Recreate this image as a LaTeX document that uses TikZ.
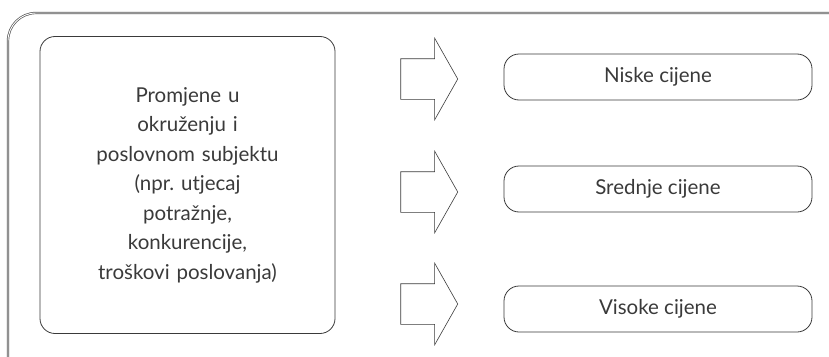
\documentclass[tikz,border=0pt]{standalone}
\usepackage{fontspec}
\setmainfont{Lato}
\usetikzlibrary{positioning,shapes.arrows}
\definecolor{Ink}{HTML}{3A3A3A}
\definecolor{Frame}{HTML}{555555}

\begin{document}
\begin{tikzpicture}[
    x=1pt, y=-1pt,
    causebox/.style={draw=Ink, line width=0.8pt, rounded corners=15pt,
                minimum width=295pt, minimum height=297pt, inner sep=0pt,
                align=center, text width=280pt, font=\fontsize{20.5}{29.5}\selectfont, text=Ink},
    pricebox/.style={draw=Ink, line width=0.8pt, rounded corners=15pt,
                minimum width=308pt, minimum height=46pt, inner sep=0pt,
                font=\fontsize{20.5}{24}\selectfont, text=Ink},
    blockarrow/.style={single arrow, draw=Ink, line width=0.6pt, inner sep=0pt,
                minimum height=57pt, minimum width=81pt, text height=20pt, text depth=20pt,
                single arrow head extend=20.5pt, single arrow tip angle=121}
  ]
    \useasboundingbox (0,0) rectangle (829,356);
    \begin{scope}
      \clip (0,0) rectangle (829,356);
      \draw[Frame, line width=0.7pt, double=white, double distance=0.9pt, rounded corners=28pt]
        (8,13) rectangle (870,400);
    \end{scope}

    \node[causebox] (cause) at (187.5,185)
      {Promjene u\\okruženju i\\poslovnom subjektu\\(npr.\ utjecaj\\potražnje,\\konkurencije,\\troškovi poslovanja)};

    \node[pricebox] (low)  at (658,77)  {Niske cijene};
    \node[pricebox] (mid)  at (658,189) {Srednje cijene};
    \node[pricebox] (high) at (658,309) {Visoke cijene};

    \node[blockarrow] (a1) at (423.5,79)  {};
    \node[blockarrow] (a2) at (423.5,192) {};
    \node[blockarrow] (a3) at (423.5,304) {};
  \end{tikzpicture}
\end{document}
